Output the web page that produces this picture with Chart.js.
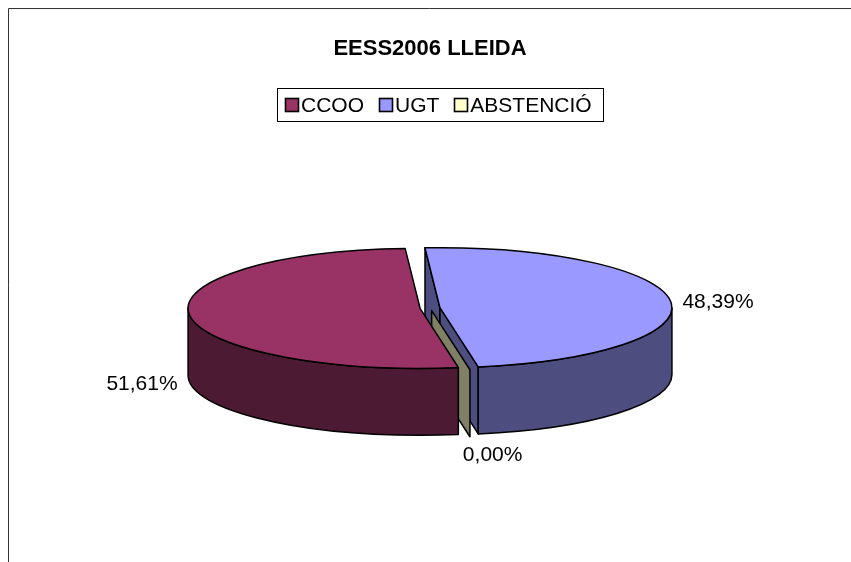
<!DOCTYPE html>
<html>
<head>
<meta charset="utf-8">
<script src="https://cdn.jsdelivr.net/npm/chart.js@4.4.1/dist/chart.umd.min.js"></script>
<style>
    html, body { margin: 0; padding: 0; background: #ffffff; }
    #wrap { width: 851px; height: 562px; }
</style>
</head>
<body>
<div id="wrap"><canvas id="chart" width="851" height="562"></canvas></div>
<script>
// Chart data
const chartTitle = 'EESS2006 LLEIDA';
const categories = ['CCOO', 'UGT', 'ABSTENCIÓ'];
const votes = [16, 15, 0];
const topColors = ['#993366', '#9999FF', '#FFFFCC'];
const sideColors = ['#4D1A33', '#4D4D80', '#808066'];

// Look of the 3D pie
const FONT = "'Liberation Sans', Arial, sans-serif";
const SQUASH = 60 / 232;     // vertical tilt of the top face
const DEPTH = 67;            // thickness of the pie, px
const EDGE = '#000000';
const LABEL_SIZE = 21;
const LABEL_GAP = 12;

// Format a share like Excel in Catalan: 51,61%
function formatShare(value, total) {
    return (total ? value / total * 100 : 0).toFixed(2).replace('.', ',') + '%';
}

// Geometry of each slice, taken from the arc elements Chart.js laid out
function sliceGeometry(chart) {
    const meta = chart.getDatasetMeta(0);
    return meta.data.map((arc, i) => {
        const p = arc.getProps(['x', 'y', 'startAngle', 'endAngle', 'outerRadius'], true);
        const off = arc.options.offset || 0;
        const mid = (p.startAngle + p.endAngle) / 2;
        const rx = p.outerRadius;
        return {
            index: i,
            cx: p.x + Math.cos(mid) * off,
            cy: p.y + Math.sin(mid) * off * SQUASH,
            rx: rx,
            ry: rx * SQUASH,
            a0: p.startAngle,
            a1: p.endAngle,
            mid: mid
        };
    });
}

function drawPoly(ctx, pts, fill) {
    ctx.beginPath();
    ctx.moveTo(pts[0][0], pts[0][1]);
    for (let k = 1; k < pts.length; k++) ctx.lineTo(pts[k][0], pts[k][1]);
    ctx.closePath();
    ctx.fillStyle = fill;
    ctx.fill();
    ctx.stroke();
}

const pie3d = {
    id: 'pie3d',
    beforeDraw(chart) {
        const ctx = chart.ctx;
        ctx.save();
        ctx.fillStyle = '#ffffff';
        ctx.fillRect(0, 0, chart.width, chart.height);
        // chart frame (only the top and left edges fall inside the picture)
        ctx.strokeStyle = '#333333';
        ctx.lineWidth = 1;
        ctx.beginPath();
        ctx.moveTo(8.5, chart.height);
        ctx.lineTo(8.5, 8.5);
        ctx.lineTo(chart.width, 8.5);
        ctx.stroke();
        ctx.restore();
    },
    beforeDatasetsDraw(chart) {
        const ctx = chart.ctx;
        const slices = sliceGeometry(chart);
        ctx.save();
        ctx.strokeStyle = EDGE;
        ctx.lineWidth = 1.5;
        ctx.lineJoin = 'round';

        // radial cut faces, back to front
        const faces = [];
        slices.forEach(s => {
            const zero = s.a1 - s.a0 < 1e-6;
            [[s.a0, 'start'], [s.a1, 'end']].forEach(([a, kind]) => {
                const visible = zero || (kind === 'start' ? Math.cos(a) < 0 : Math.cos(a) > 0);
                if (!visible || (zero && kind === 'end')) return;
                faces.push({
                    s: s,
                    a: a,
                    key: zero ? Infinity : s.cy + s.ry * Math.sin(a) / 2
                });
            });
        });
        faces.sort((f, g) => f.key - g.key);
        faces.forEach(f => {
            const s = f.s;
            const ex = s.cx + s.rx * Math.cos(f.a);
            const ey = s.cy + s.ry * Math.sin(f.a);
            drawPoly(ctx, [[s.cx, s.cy], [ex, ey], [ex, ey + DEPTH], [s.cx, s.cy + DEPTH]], sideColors[s.index]);
        });

        // outer walls, only the front half shows
        slices.forEach(s => {
            for (let k = -1; k <= 2; k++) {
                const lo = Math.max(s.a0, 2 * Math.PI * k);
                const hi = Math.min(s.a1, 2 * Math.PI * k + Math.PI);
                if (hi - lo < 1e-6) continue;
                ctx.beginPath();
                ctx.ellipse(s.cx, s.cy, s.rx, s.ry, 0, lo, hi);
                ctx.ellipse(s.cx, s.cy + DEPTH, s.rx, s.ry, 0, hi, lo, true);
                ctx.closePath();
                ctx.fillStyle = sideColors[s.index];
                ctx.fill();
                ctx.stroke();
            }
        });

        // top faces
        slices.forEach(s => {
            if (s.a1 - s.a0 < 1e-6) return;
            ctx.beginPath();
            ctx.moveTo(s.cx, s.cy);
            ctx.ellipse(s.cx, s.cy, s.rx, s.ry, 0, s.a0, s.a1);
            ctx.closePath();
            ctx.fillStyle = topColors[s.index];
            ctx.fill();
            ctx.stroke();
        });
        ctx.restore();
        return false;
    },
    afterDraw(chart) {
        const ctx = chart.ctx;
        const data = chart.data.datasets[0].data;
        const total = data.reduce((a, b) => a + b, 0);
        ctx.save();
        ctx.font = LABEL_SIZE + 'px ' + FONT;
        ctx.fillStyle = '#000000';
        ctx.textBaseline = 'alphabetic';
        ctx.textAlign = 'left';

        // percentage labels outside the pie
        const capH = LABEL_SIZE * 0.716;
        sliceGeometry(chart).forEach(s => {
            const text = formatShare(data[s.index], total);
            const w = ctx.measureText(text).width;
            const px = s.cx + s.rx * Math.cos(s.mid);
            const py = s.cy + s.ry * Math.sin(s.mid) + (Math.sin(s.mid) > 0 ? DEPTH : 0);
            let ux = Math.cos(s.mid) * s.rx;
            let uy = Math.sin(s.mid) * s.ry;
            const n = Math.hypot(ux, uy) || 1;
            ux /= n; uy /= n;
            const ax = px + ux * LABEL_GAP;
            const ay = py + uy * LABEL_GAP;
            const left = ax + (ux - 1) * w / 2;
            const top = ay + (uy - 1) * capH / 2;
            ctx.fillText(text, left, top + capH);
        });

        // legend in a framed box
        const lg = { x: 278, y: 88.5, h: 33, padL: 7, padR: 12, box: 13, gap: 3, itemGap: 15, base: 112.3 };
        const widths = chart.data.labels.map(t => ctx.measureText(t).width);
        let width = lg.padL + lg.padR + lg.itemGap * (widths.length - 1);
        widths.forEach(w => { width += lg.box + lg.gap + w; });
        ctx.strokeStyle = '#000000';
        ctx.lineWidth = 1;
        ctx.strokeRect(Math.round(lg.x) - 0.5, lg.y, Math.round(width), lg.h);
        let x = lg.x + lg.padL;
        chart.data.labels.forEach((label, i) => {
            ctx.fillStyle = topColors[i];
            ctx.fillRect(Math.round(x) + 0.5, 98.5, lg.box, lg.box);
            ctx.lineWidth = 1.6;
            ctx.strokeRect(Math.round(x) + 0.5, 98.5, lg.box, lg.box);
            ctx.fillStyle = '#000000';
            ctx.fillText(label, x + lg.box + lg.gap, lg.base);
            x += lg.box + lg.gap + widths[i] + lg.itemGap;
        });
        ctx.restore();
    }
};

const chart = new Chart(document.getElementById('chart'), {
    type: 'pie',
    data: {
        labels: categories,
        datasets: [{
            data: votes,
            backgroundColor: topColors,
            borderColor: EDGE,
            borderWidth: 1.5,
            offset: 10
        }]
    },
    options: {
        responsive: false,
        animation: false,
        radius: 232,
        rotation: 170.5,
        layout: {
            padding: { left: 9, right: 0, top: 0, bottom: 16.4 }
        },
        plugins: {
            title: {
                display: true,
                text: chartTitle,
                color: '#000000',
                font: { family: FONT, size: 22, weight: 'bold' },
                padding: { top: 36, bottom: 8 }
            },
            legend: { display: false },
            tooltip: { enabled: false }
        }
    },
    plugins: [pie3d]
});
</script>
</body>
</html>
